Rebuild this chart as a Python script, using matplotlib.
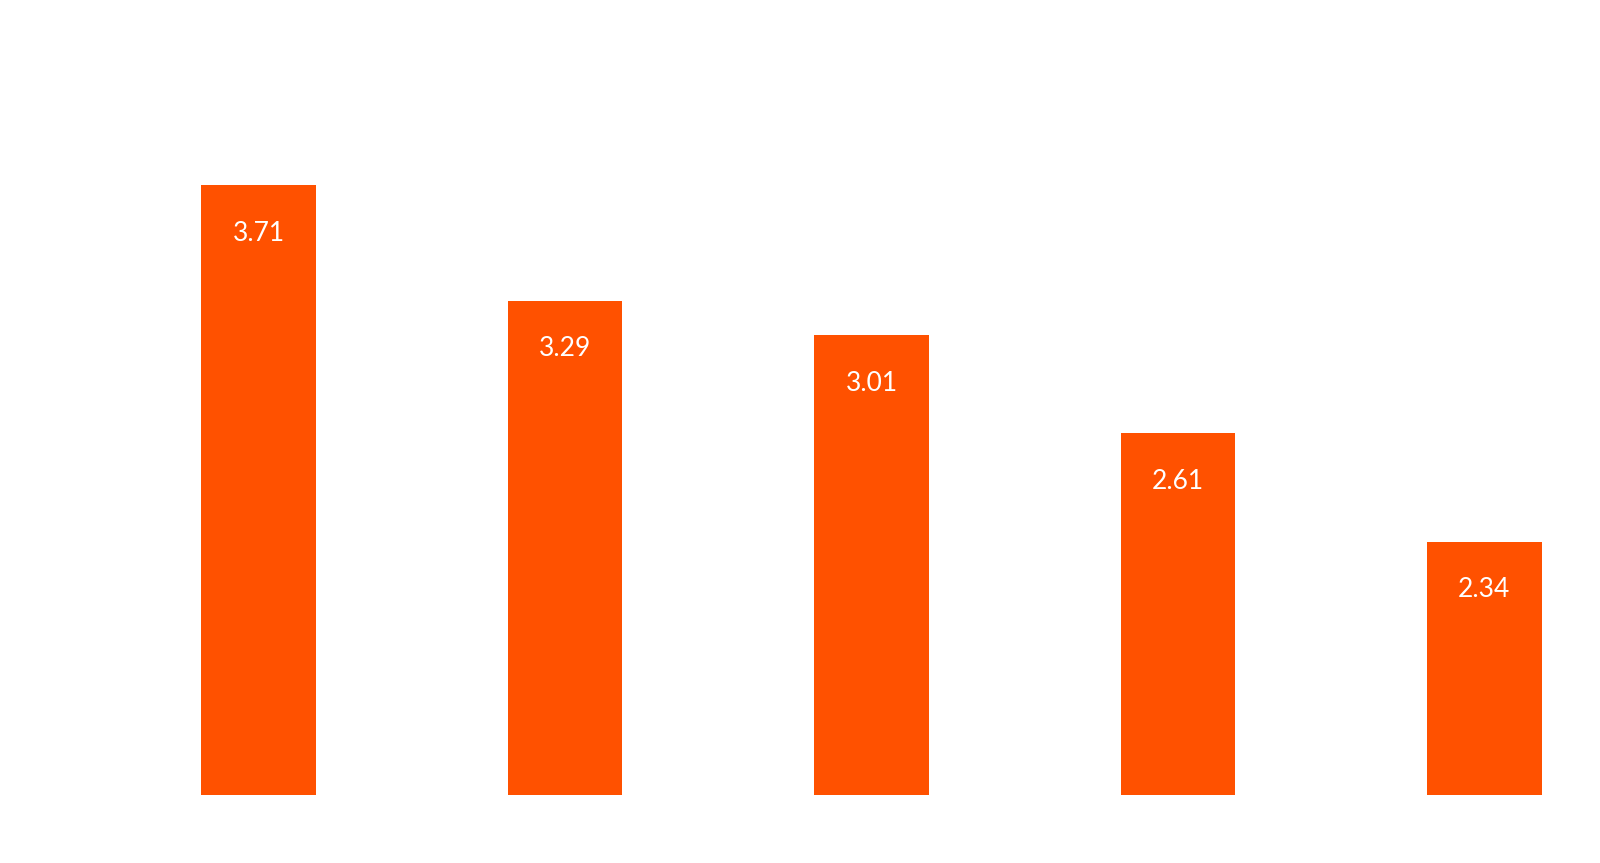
import numpy as np
import matplotlib
matplotlib.use('Agg')
import matplotlib.pyplot as plt

# values shown on the bars, and the bar heights as drawn (axis units 0-6)
labels = ['3.71', '3.29', '3.01', '2.61', '2.34']
heights = [4.60, 3.73, 3.47, 2.73, 1.91]

BAR_COLOR = '#ff5100'

fig = plt.figure(figsize=(16, 8.63), dpi=100)
ax = fig.add_axes([0, 0.0788, 1, 0.9212])

x = np.arange(len(heights))
bars = ax.bar(x, heights, width=0.374, color=BAR_COLOR, edgecolor='none')

for b, lab in zip(bars, labels):
    ax.annotate(lab, (b.get_x() + b.get_width() / 2, b.get_height()),
                xytext=(0, -48), textcoords='offset pixels',
                ha='center', va='center', color='white',
                fontsize=19, family=['Lato', 'DejaVu Sans'])

ax.set_xlim(-0.8443, 4.3776)
ax.set_ylim(0, 6)
ax.axis('off')

fig.savefig('out.png', dpi=100, facecolor='white')
